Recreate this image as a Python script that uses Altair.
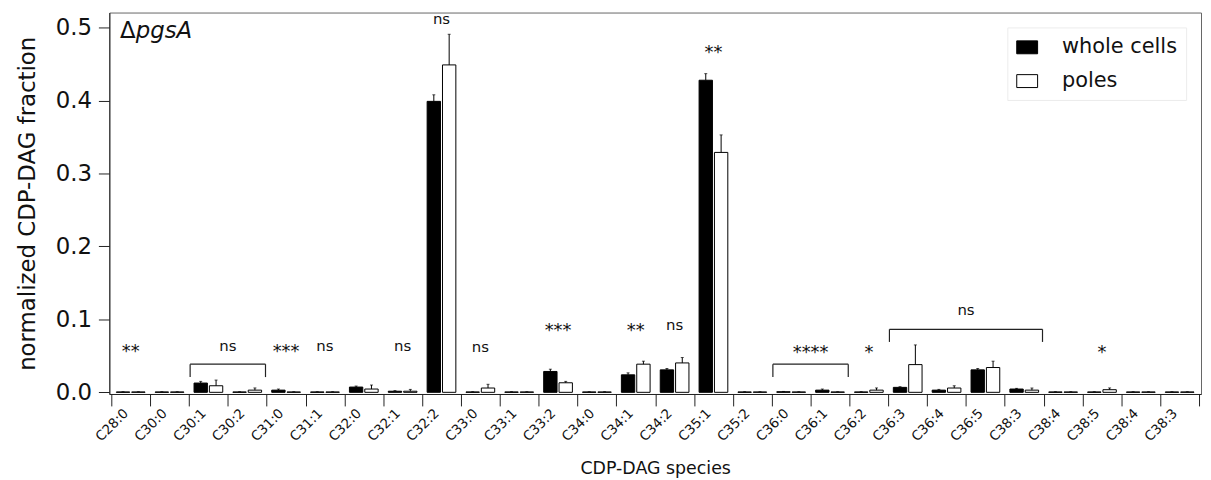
import json
import altair as alt
import pandas as pd

species = ["C28:0", "C30:0", "C30:1", "C30:2", "C31:0", "C31:1", "C32:0", "C32:1",
           "C32:2", "C33:0", "C33:1", "C33:2", "C34:0", "C34:1", "C34:2", "C35:1",
           "C35:2", "C36:0", "C36:1", "C36:2", "C36:3", "C36:4", "C36:5", "C38:3",
           "C38:4", "C38:5", "C38:4", "C38:3"]

series_names = ["whole cells", "poles"]

whole = [0.0005, 0.0005, 0.0127, 0.0005, 0.0030, 0.0005, 0.0072, 0.0015,
         0.399, 0.0005, 0.0005, 0.0286, 0.0005, 0.0240, 0.0308, 0.428,
         0.0005, 0.0008, 0.0030, 0.0005, 0.0068, 0.0030, 0.0308, 0.0045,
         0.0005, 0.0005, 0.0005, 0.0005]
whole_err = [0.0003, 0.0003, 0.0023, 0.0003, 0.0015, 0.0003, 0.0014, 0.0008,
             0.009, 0.0003, 0.0003, 0.0031, 0.0003, 0.0027, 0.0019, 0.009,
             0.0003, 0.0004, 0.0015, 0.0003, 0.0009, 0.0010, 0.0019, 0.0009,
             0.0003, 0.0003, 0.0003, 0.0003]
poles = [0.0005, 0.0005, 0.0090, 0.0030, 0.0005, 0.0005, 0.0045, 0.0015,
         0.449, 0.0059, 0.0005, 0.0131, 0.0005, 0.0386, 0.0403, 0.329,
         0.0005, 0.0005, 0.0005, 0.0030, 0.038, 0.0059, 0.034, 0.0030,
         0.0005, 0.0036, 0.0005, 0.0005]
poles_err = [0.0003, 0.0003, 0.0078, 0.0030, 0.0003, 0.0003, 0.0055, 0.0025,
             0.042, 0.0051, 0.0003, 0.0019, 0.0003, 0.0041, 0.0074, 0.024,
             0.0003, 0.0003, 0.0003, 0.0030, 0.027, 0.0031, 0.0087, 0.0029,
             0.0003, 0.0024, 0.0003, 0.0003]

# significance labels on single species
sig_text = ["**", "***", "ns", "ns", "ns", "ns", "***", "**", "ns", "**", "*", "*"]
sig_cat = [0, 4, 5, 7, 8, 9, 11, 13, 14, 15, 19, 25]
sig_y = [0.0617, 0.0617, 0.0617, 0.0617, 0.511, 0.0604, 0.0903, 0.0903, 0.0903,
         0.4717, 0.0604, 0.0604]

# bracketed comparisons
br_text = ["ns", "****", "ns"]
br_start = [2, 17, 20]
br_end = [3, 18, 23]
br_y = [0.0386, 0.0386, 0.0864]
br_leg = [0.0209, 0.0209, 0.0691]
br_label_y = [0.0617, 0.0604, 0.1108]

FONT = "DejaVu Sans"

rows = []
for i in range(len(species)):
    rows.append({"idx": i, "series": series_names[0], "value": whole[i],
                 "top": whole[i] + whole_err[i]})
    rows.append({"idx": i, "series": series_names[1], "value": poles[i],
                 "top": poles[i] + poles_err[i]})
df = pd.DataFrame(rows)

ann = []
for t, c, y in zip(sig_text, sig_cat, sig_y):
    ann.append({"text": t, "pos": c + 0.5, "y": y})
for t, s, e, y in zip(br_text, br_start, br_end, br_label_y):
    ann.append({"text": t, "pos": (s + e + 1) / 2, "y": y})
ann_df = pd.DataFrame(ann)
ns_df = ann_df[ann_df["text"] == "ns"]
star_df = ann_df[ann_df["text"] != "ns"]

br_h = pd.DataFrame({"x1": [s + 0.03 for s in br_start],
                     "x2": [e + 0.97 for e in br_end],
                     "y": br_y, "leg": br_leg})
legs = []
for s, e, y, l in zip(br_start, br_end, br_y, br_leg):
    legs.append({"x": s + 0.03, "y": y, "leg": l})
    legs.append({"x": e + 0.97, "y": y, "leg": l})
br_v = pd.DataFrame(legs)

n = len(species)

yscale = alt.Scale(domain=[-0.0023, 0.5208], nice=False, zero=False)
xscale = alt.Scale(domain=list(range(n)), paddingInner=0, paddingOuter=0.05)
xoff = alt.XOffset("series:N", sort=series_names,
                   scale=alt.Scale(domain=series_names, paddingInner=0.13, paddingOuter=0.33))

label_expr = json.dumps(species) + "[datum.value]"

x_axis = alt.Axis(title="CDP-DAG species", labelExpr=label_expr,
                  labelAngle=315, tickBand="extent", labelAlign="right",
                  labelBaseline="top",
                  labelOffset=-10, labelPadding=0,
                  tickSize=12, tickColor="#222", domainColor="#222",
                  labelFont=FONT, labelFontSize=13.5, labelColor="#111",
                  titleFont=FONT, titleFontSize=17.5,
                  titleFontWeight="normal", titleColor="#111",
                  titlePadding=16, grid=False)
x_main = alt.X("idx:O", scale=xscale, sort=None, axis=x_axis)

y_axis = alt.Axis(title="normalized CDP-DAG fraction",
                  values=[0, 0.1, 0.2, 0.3, 0.4, 0.5], format=".1f",
                  tickSize=11, tickColor="#222", domainColor="#222",
                  labelFont=FONT, labelFontSize=23, labelColor="#111",
                  labelPadding=7, titleFont=FONT, titleFontSize=23,
                  titleFontWeight="normal", titleColor="#111",
                  titlePadding=16, grid=False)

base = alt.Chart(df)
bars = base.mark_bar(stroke="black", strokeWidth=1).encode(
    x=x_main, xOffset=xoff,
    y=alt.Y("value:Q", scale=yscale, axis=y_axis), y2=alt.datum(0),
    fill=alt.Fill("series:N", sort=series_names,
                  scale=alt.Scale(domain=series_names, range=["black", "white"]),
                  legend=alt.Legend(title=None, orient="none", legendX=904, legendY=15,
                                    symbolType="M-1,-0.619H1V0.619H-1Z", symbolSize=441,
                                    symbolStrokeColor="black", symbolStrokeWidth=1,
                                    labelFont=FONT, labelFontSize=21, labelColor="#111",
                                    labelOffset=24, rowPadding=13, padding=9,
                                    strokeColor="#ececec", fillColor="white")))
errs = base.mark_rule(color="black", strokeWidth=1).encode(
    x=x_main, xOffset=xoff, y=alt.Y("value:Q", scale=yscale, axis=y_axis), y2="top:Q")
caps = base.mark_tick(color="black", thickness=1, size=3).encode(
    x=x_main, xOffset=xoff, y=alt.Y("top:Q", scale=yscale, axis=y_axis))

main = alt.layer(bars, errs, caps)

ax = alt.Scale(domain=[-0.05, n + 0.05], nice=False, zero=False)
ns_layer = alt.Chart(ns_df).mark_text(font=FONT, fontSize=15, color="#111",
                                      baseline="alphabetic", dy=4).encode(
    x=alt.X("pos:Q", scale=ax, axis=None), y=alt.Y("y:Q", scale=yscale, axis=y_axis),
    text="text:N")
star_layer = alt.Chart(star_df).mark_text(font=FONT, fontSize=18, color="#111",
                                          baseline="alphabetic", dy=10).encode(
    x=alt.X("pos:Q", scale=ax, axis=None), y=alt.Y("y:Q", scale=yscale, axis=y_axis),
    text="text:N")
br_h_layer = alt.Chart(br_h).mark_rule(color="#222", strokeWidth=1.2).encode(
    x=alt.X("x1:Q", scale=ax, axis=None), x2="x2:Q",
    y=alt.Y("y:Q", scale=yscale, axis=y_axis))
br_v_layer = alt.Chart(br_v).mark_rule(color="#222", strokeWidth=1.2).encode(
    x=alt.X("x:Q", scale=ax, axis=None), y=alt.Y("y:Q", scale=yscale, axis=y_axis),
    y2="leg:Q")

tag_d = alt.Chart(pd.DataFrame({"t": ["Δ"]})).mark_text(
    font=FONT, fontSize=23, color="#111", align="left", baseline="alphabetic").encode(
    x=alt.value(10.7), y=alt.value(25.7), text="t:N")
tag_g = alt.Chart(pd.DataFrame({"t": ["pgsA"]})).mark_text(
    font=FONT, fontSize=23, fontStyle="italic", color="#111", align="left",
    baseline="alphabetic").encode(x=alt.value(26.5), y=alt.value(25.7), text="t:N")

annot = alt.layer(ns_layer, star_layer, br_h_layer, br_v_layer, tag_d, tag_g)

chart = alt.layer(main, annot).resolve_scale(x="independent").properties(
    width=1099, height=384,
    autosize=alt.AutoSizeParams(type="none"),
    padding={"left": 102, "top": 3, "right": 2, "bottom": 85},
).configure_view(stroke="#666", strokeWidth=1)

chart.save("out.html", embed_options={"renderer": "svg", "actions": False})
